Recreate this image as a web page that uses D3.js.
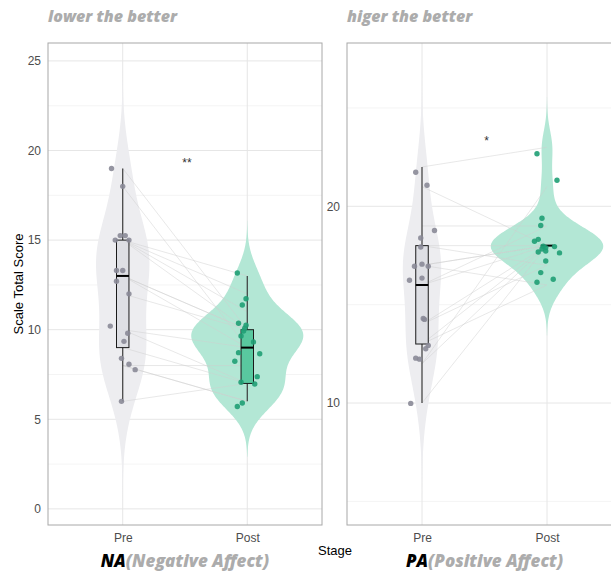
<!DOCTYPE html>
<html>
  <head>
    <meta charset="utf-8">
    <title>NA / PA pre-post</title>
    <style media="screen">
      body {margin:0; background:#fff}
      text {font-family: "Liberation Sans", Arial, sans-serif}
      .ttl {font-family: "Open Sans", Roboto, sans-serif; font-weight:800; font-style:italic}
    </style>
  </head>
  <body>
    <script src="https://cdn.jsdelivr.net/npm/d3@7/dist/d3.min.js"></script>
    <script type="text/javascript">

    const stages = ['Pre', 'Post']

    // NA (Negative Affect) - one entry per participant, pre and post
    const naPre  = [19, 18, 15, 15, 15, 15, 13, 13, 13, 12, 10, 10, 9, 8, 8, 8, 6]
    const naPost = [10, 9, 13, 10, 12, 11, 10, 9, 10, 10, 7, 9, 7, 8, 6, 6, 7]
    // jitter of the dots: x in category steps, y in score units
    const naPreJx  = [-0.09, 0, -0.02, 0.02, -0.06, 0.05, -0.05, 0, -0.05, 0.05, -0.1, 0.04, 0.01, -0.01, 0.05, 0.1, -0.01]
    const naPreJy  = [0, 0, 0.25, 0.25, 0, 0, 0.3, 0.3, -0.3, 0, 0.2, -0.2, 0.35, 0.4, 0.07, -0.23, 0]
    const naPostJx = [-0.07, 0.05, -0.08, -0.01, -0.01, -0.04, -0.02, -0.07, -0.03, -0.05, 0.08, 0.1, -0.05, -0.1, -0.04, -0.08, 0.06]
    const naPostJy = [0.36, 0.31, 0.16, 0.25, -0.27, 0.38, 0.08, -0.28, -0.07, -0.35, 0.38, -0.34, 0.07, 0.24, -0.09, -0.29, -0.03]
    const naBreaks = [0, 5, 10, 15, 20, 25]
    const naDomain = [-0.9, 26.0]
    const naSig = '**', naSigAt = 19.4

    // PA (Positive Affect)
    const paPre  = [22, 21, 19, 18, 18, 17, 17, 17, 16, 16, 14, 14, 13, 13, 12, 12, 10]
    const paPost = [23, 18, 19, 18, 17, 18, 18, 16, 18, 19, 18, 17, 18, 16, 21, 18, 18]
    const paPreJx  = [-0.05, 0.04, 0.1, -0.01, -0.01, -0.06, 0, 0.05, 0, -0.1, 0.01, 0.02, 0.05, 0.03, -0.05, -0.02, -0.09]
    const paPreJy  = [-0.27, 0.07, -0.23, 0.39, -0.07, -0.05, 0.06, -0.05, 0.35, 0.24, 0.3, 0.25, -0.07, -0.24, 0.28, 0.23, -0.02]
    const paPostJx = [-0.08, -0.07, -0.04, -0.1, -0.01, -0.03, -0.01, 0.05, -0.04, -0.05, 0.06, -0.05, -0.07, -0.08, 0.08, -0.01, 0.1]
    const paPostJy = [-0.33, 0.32, 0.39, 0.22, 0.22, -0.03, -0.1, 0.29, -0.17, 0.02, -0.05, -0.37, -0.32, 0.14, 0.32, -0.27, -0.37]
    const paBreaks = [10, 20]
    const paDomain = [3.8, 28.3]
    const paSig = '*', paSigAt = 23.4

    const W = 611, H = 571
    const yTop = 43, yBottom = 525

    const col = {
      Pre:  {violin: '#ededf0', box: '#dcdde2', dot: '#8a8a97'},
      Post: {violin: '#b3e7d5', box: '#4fc499', dot: '#1f9f74'}
    }

    const svg = d3.select('body').append('svg')
      .attr('width', W)
      .attr('height', H)

    // same bandwidth rule as R's bw.nrd0
    function bw (v) {
      const sd = d3.deviation(v)
      const iqr = d3.quantile(v, 0.75) - d3.quantile(v, 0.25)
      let lo = Math.min(sd, iqr / 1.34)
      if (!lo) lo = sd || 1
      return 0.9 * lo * Math.pow(v.length, -0.2)
    }

    function density (v) {
      const h = bw(v)
      const lo = d3.min(v) - 3 * h, hi = d3.max(v) + 3 * h
      return d3.range(201).map(i => {
        const t = lo + (hi - lo) * i / 200
        const d = d3.mean(v, x => Math.exp(-0.5 * ((t - x) / h) ** 2)) / (h * Math.sqrt(2 * Math.PI))
        return [t, d]
      })
    }

    function boxStats (v) {
      const s = v.slice().sort(d3.ascending)
      const q1 = d3.quantileSorted(s, 0.25), med = d3.quantileSorted(s, 0.5), q3 = d3.quantileSorted(s, 0.75)
      const r = 1.5 * (q3 - q1)
      return {q1, med, q3, lo: d3.min(s.filter(d => d >= q1 - r)), hi: d3.max(s.filter(d => d <= q3 + r))}
    }

    function panel (o) {
      const g = svg.append('g')
      const x = d3.scalePoint().domain(stages).range([o.left, o.right]).padding(0.6)
      const y = d3.scaleLinear().domain(o.domain).range([yBottom, yTop])
      const step = x.step()

      // grid
      const gap = o.breaks.length > 1 ? o.breaks[1] - o.breaks[0] : 10
      const minor = d3.range(o.breaks[0] - gap, o.breaks[o.breaks.length - 1] + gap, gap)
        .map(b => b + gap / 2).filter(b => b > o.domain[0] && b < o.domain[1])
      g.selectAll('.minor').data(minor).join('line')
        .attr('x1', o.left).attr('x2', o.right)
        .attr('y1', d => y(d)).attr('y2', d => y(d))
        .attr('stroke', '#f1f1f1').attr('stroke-width', 0.8)
      g.selectAll('.major').data(o.breaks).join('line')
        .attr('x1', o.left).attr('x2', o.right)
        .attr('y1', d => y(d)).attr('y2', d => y(d))
        .attr('stroke', '#e6e6e6').attr('stroke-width', 1)
      g.selectAll('.vgrid').data(stages).join('line')
        .attr('x1', d => x(d)).attr('x2', d => x(d))
        .attr('y1', yTop).attr('y2', yBottom)
        .attr('stroke', '#e6e6e6').attr('stroke-width', 1)

      // violins, area-scaled inside the panel
      const groups = stages.map((s, i) => ({stage: s, values: o.series[i], dens: density(o.series[i])}))
      const maxD = d3.max(groups, gr => d3.max(gr.dens, d => d[1]))
      groups.forEach(gr => {
        const cx = x(gr.stage)
        const w = d => d[1] / maxD * 0.45 * step
        g.append('path')
          .attr('d', d3.area().y(d => y(d[0])).x0(d => cx - w(d)).x1(d => cx + w(d)).curve(d3.curveBasis)(gr.dens))
          .attr('fill', col[gr.stage].violin)
      })

      // paired lines
      g.selectAll('.pair').data(d3.range(o.series[0].length)).join('line')
        .attr('x1', x('Pre')).attr('y1', i => y(o.series[0][i]))
        .attr('x2', x('Post')).attr('y2', i => y(o.series[1][i]))
        .attr('stroke', '#cfcfcf').attr('stroke-width', 0.6).attr('stroke-opacity', 0.8)

      // boxes
      const bw2 = 0.05 * step
      groups.forEach(gr => {
        const b = boxStats(gr.values)
        const cx = x(gr.stage)
        g.append('line').attr('x1', cx).attr('x2', cx).attr('y1', y(b.hi)).attr('y2', y(b.q3))
          .attr('stroke', '#3a3a3a').attr('stroke-width', 1.2)
        g.append('line').attr('x1', cx).attr('x2', cx).attr('y1', y(b.q1)).attr('y2', y(b.lo))
          .attr('stroke', '#3a3a3a').attr('stroke-width', 1.2)
        g.append('rect')
          .attr('x', cx - bw2).attr('width', 2 * bw2)
          .attr('y', y(b.q3)).attr('height', Math.max(0, y(b.q1) - y(b.q3)))
          .attr('fill', col[gr.stage].box).attr('fill-opacity', 0.9)
          .attr('stroke', '#1a1a1a').attr('stroke-width', 1)
        g.append('line').attr('x1', cx - bw2).attr('x2', cx + bw2).attr('y1', y(b.med)).attr('y2', y(b.med))
          .attr('stroke', '#000').attr('stroke-width', 2)
      })

      // jittered dots
      stages.forEach((s, k) => {
        const v = o.series[k], jx = o.jx[k], jy = o.jy[k]
        g.selectAll('.dot' + s).data(v).join('circle')
          .attr('cx', (d, i) => x(s) + jx[i] * step)
          .attr('cy', (d, i) => y(d + jy[i]))
          .attr('r', 2.7)
          .attr('fill', col[s].dot).attr('fill-opacity', 0.9)
      })

      // significance
      g.append('text')
        .attr('x', (x('Pre') + x('Post')) / 2 + 2)
        .attr('y', y(o.sigAt) + 6)
        .attr('text-anchor', 'middle')
        .attr('font-size', 12)
        .attr('fill', '#333')
        .text(o.sig)

      // axes
      const ya = g.append('g').attr('transform', `translate(${o.left},0)`)
        .call(d3.axisLeft(y).tickValues(o.breaks).tickSize(0).tickPadding(7))
      ya.select('.domain').remove()
      ya.selectAll('text').attr('font-size', 12).attr('fill', '#4d4d4d').style('font-family', '"Liberation Sans", Arial, sans-serif')

      const xa = g.append('g').attr('transform', `translate(0,${yBottom})`)
        .call(d3.axisBottom(x).tickSize(0).tickPadding(8))
      xa.select('.domain').remove()
      xa.selectAll('text').attr('font-size', 12).attr('fill', '#4d4d4d').style('font-family', '"Liberation Sans", Arial, sans-serif')

      // border
      g.append('rect')
        .attr('x', o.left).attr('y', yTop)
        .attr('width', o.right - o.left).attr('height', yBottom - yTop)
        .attr('fill', 'none').attr('stroke', '#a8a8a8').attr('stroke-width', 1)

      // titles
      g.append('text').attr('class', 'ttl')
        .attr('x', o.left).attr('y', 22)
        .attr('font-size', 16).attr('fill', '#acacac')
        .text(o.note)

      const t = g.append('text').attr('class', 'ttl')
        .attr('x', (o.left + o.right) / 2).attr('y', 567)
        .attr('text-anchor', 'middle').attr('font-size', 17)
      t.append('tspan').attr('fill', '#000').text(o.short)
      t.append('tspan').attr('fill', '#acacac').text(o.long)
    }

    panel({
      left: 48, right: 322, domain: naDomain, breaks: naBreaks,
      series: [naPre, naPost], jx: [naPreJx, naPostJx], jy: [naPreJy, naPostJy],
      sig: naSig, sigAt: naSigAt,
      note: 'lower the better', short: 'NA', long: '(Negative Affect)'
    })

    panel({
      left: 347, right: 622, domain: paDomain, breaks: paBreaks,
      series: [paPre, paPost], jx: [paPreJx, paPostJx], jy: [paPreJy, paPostJy],
      sig: paSig, sigAt: paSigAt,
      note: 'higer the better', short: 'PA', long: '(Positive Affect)'
    })

    svg.append('text')
      .attr('x', 335).attr('y', 555)
      .attr('text-anchor', 'middle')
      .attr('font-size', 13)
      .text('Stage')

    svg.append('text')
      .attr('transform', 'translate(23,284) rotate(-90)')
      .attr('text-anchor', 'middle')
      .attr('font-size', 13)
      .text('Scale Total Score')

    </script>
  </body>
</html>
